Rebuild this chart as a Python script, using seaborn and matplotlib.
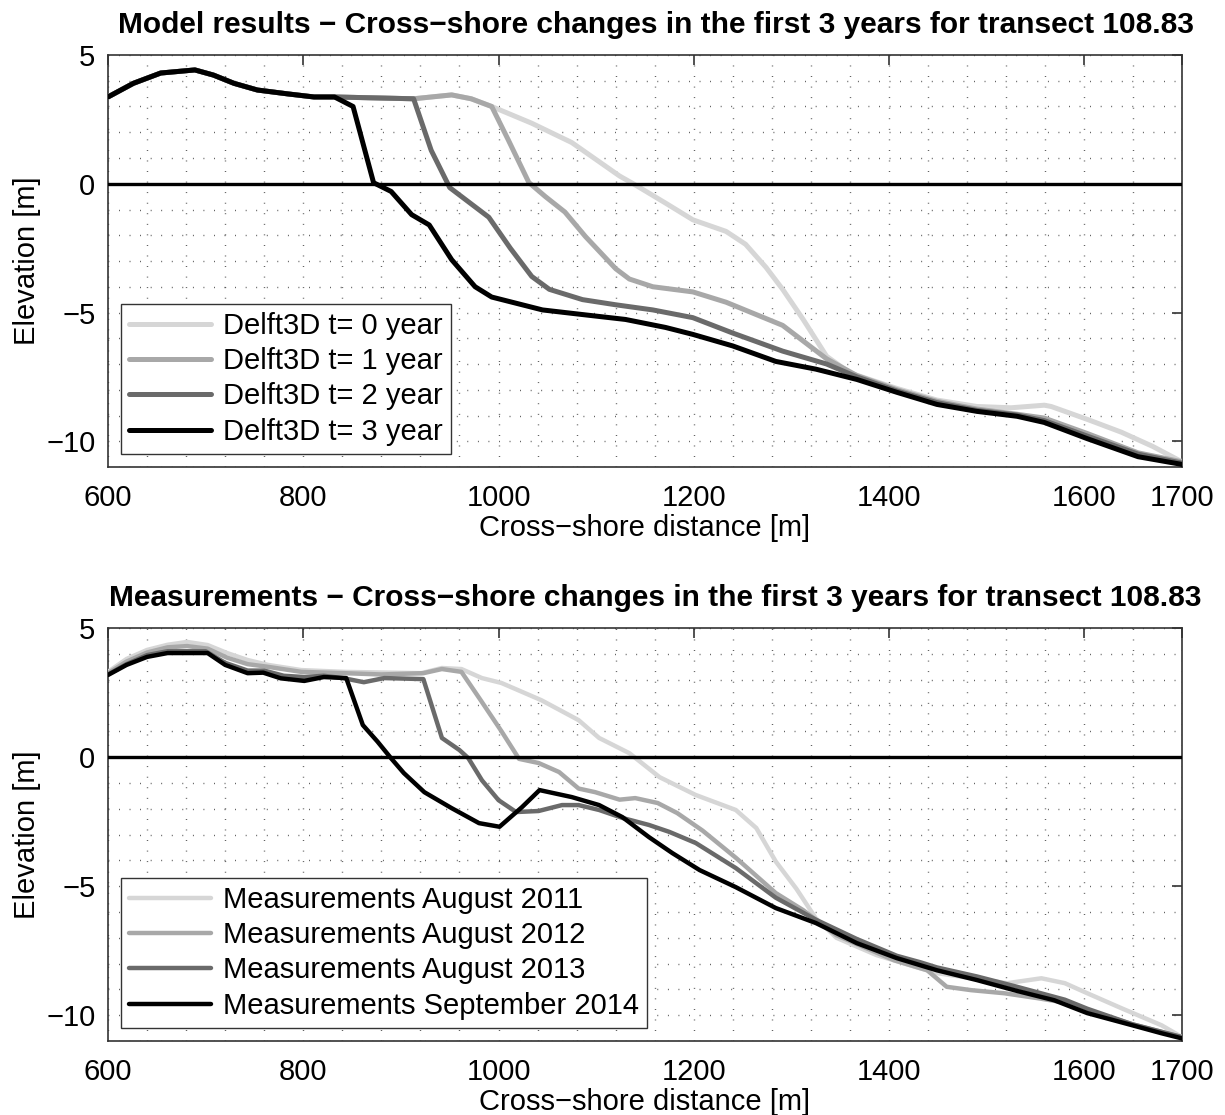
import matplotlib
matplotlib.use("Agg")
import matplotlib.pyplot as plt
from matplotlib.ticker import FixedLocator
import seaborn as sns

# ----------------------------------------------------------------
# Data (cross-shore distance [m], elevation [m])
# ----------------------------------------------------------------
# Model results (Delft3D)
T0_X = [600, 626, 654, 689, 708, 729, 753, 784, 811, 832, 913, 952, 972, 993, 1034, 1075,
        1124, 1138, 1171, 1199, 1233, 1253, 1274, 1291, 1312, 1336, 1360, 1408, 1449, 1490,
        1525, 1559, 1566, 1603, 1638, 1670, 1700]
T0_Y = [3.37, 3.9, 4.3, 4.42, 4.22, 3.9, 3.64, 3.49, 3.37, 3.37, 3.3, 3.45, 3.3, 3.0, 2.35, 1.6,
        0.3, 0.0, -0.75, -1.4, -1.85, -2.35, -3.25, -4.1, -5.27, -6.7, -7.35, -7.95, -8.4, -8.65,
        -8.7, -8.6, -8.65, -9.15, -9.65, -10.2, -10.8]

T1_X = [600, 626, 654, 689, 708, 729, 753, 784, 811, 832, 913, 952, 972, 993, 1010, 1031, 1048,
        1068, 1089, 1120, 1134, 1158, 1199, 1233, 1291, 1336, 1367, 1408, 1449, 1490, 1531,
        1559, 1603, 1655, 1700]
T1_Y = [3.37, 3.9, 4.3, 4.42, 4.22, 3.9, 3.64, 3.49, 3.37, 3.37, 3.3, 3.45, 3.3, 3.0, 1.7, 0.05,
        -0.5, -1.1, -2.05, -3.3, -3.7, -4.0, -4.2, -4.6, -5.5, -6.8, -7.45, -8.0, -8.45, -8.75,
        -8.95, -9.1, -9.7, -10.45, -10.8]

T2_X = [600, 626, 654, 689, 708, 729, 753, 784, 811, 832, 913, 931, 950, 990, 1012, 1034, 1052,
        1086, 1120, 1158, 1199, 1240, 1291, 1336, 1367, 1408, 1449, 1490, 1531, 1559, 1603,
        1655, 1700]
T2_Y = [3.37, 3.9, 4.3, 4.42, 4.22, 3.9, 3.64, 3.49, 3.37, 3.37, 3.3, 1.3, -0.15, -1.3, -2.5,
        -3.6, -4.1, -4.5, -4.7, -4.9, -5.2, -5.8, -6.5, -7.0, -7.5, -8.05, -8.5, -8.8, -8.98,
        -9.2, -9.8, -10.5, -10.85]

T3_X = [600, 626, 654, 689, 708, 729, 753, 784, 811, 832, 851, 872, 890, 911, 929, 952, 976,
        993, 1045, 1086, 1130, 1171, 1199, 1240, 1284, 1325, 1367, 1408, 1449, 1490, 1531,
        1559, 1603, 1655, 1700]
T3_Y = [3.37, 3.9, 4.3, 4.42, 4.22, 3.9, 3.64, 3.49, 3.37, 3.37, 3.0, 0.04, -0.3, -1.2, -1.6,
        -2.95, -4.0, -4.4, -4.9, -5.08, -5.27, -5.58, -5.85, -6.3, -6.9, -7.2, -7.6, -8.1,
        -8.57, -8.84, -9.03, -9.27, -9.9, -10.6, -10.9]

# Measurements
M11_X = [600, 619, 640, 661, 681, 702, 722, 743, 764, 798, 842, 921, 942, 962, 983, 1003, 1044,
         1082, 1103, 1134, 1165, 1202, 1243, 1264, 1284, 1305, 1325, 1346, 1387, 1428, 1449,
         1490, 1521, 1556, 1580, 1603, 1638, 1679, 1700]
M11_Y = [3.3, 3.8, 4.15, 4.35, 4.46, 4.34, 4.03, 3.76, 3.57, 3.37, 3.3, 3.25, 3.45, 3.41, 3.06,
         2.87, 2.2, 1.43, 0.74, 0.15, -0.78, -1.47, -2.05, -2.75, -4.05, -5.1, -6.25, -7.0,
         -7.67, -8.14, -8.37, -8.6, -8.76, -8.57, -8.76, -9.15, -9.73, -10.39, -10.85]

M12_X = [600, 619, 640, 661, 681, 702, 722, 743, 763, 798, 842, 880, 923, 942, 962, 983, 1003,
         1021, 1041, 1062, 1082, 1099, 1124, 1140, 1163, 1183, 1209, 1243, 1284, 1312, 1346,
         1405, 1439, 1459, 1484, 1518, 1552, 1583, 1603, 1649, 1700]
M12_Y = [3.25, 3.7, 4.05, 4.25, 4.3, 4.2, 3.85, 3.6, 3.5, 3.3, 3.25, 3.2, 3.25, 3.41, 3.3, 2.13,
         1.0, -0.07, -0.23, -0.58, -1.22, -1.36, -1.65, -1.59, -1.78, -2.17, -2.85, -3.9,
         -5.27, -5.93, -6.9, -7.87, -8.26, -8.9, -9.03, -9.15, -9.34, -9.53, -9.8, -10.35,
         -10.85]

M13_X = [600, 619, 640, 661, 700, 720, 743, 760, 780, 801, 821, 842, 862, 883, 923, 942, 960,
         969, 983, 1000, 1018, 1041, 1065, 1082, 1103, 1127, 1154, 1175, 1202, 1243, 1284,
         1325, 1367, 1408, 1432, 1449, 1490, 1531, 1580, 1603, 1649, 1700]
M13_Y = [3.2, 3.6, 3.95, 4.1, 4.1, 3.65, 3.35, 3.35, 3.15, 3.1, 3.15, 3.05, 2.9, 3.06, 3.02,
         0.74, 0.27, -0.04, -0.9, -1.67, -2.13, -2.09, -1.86, -1.86, -2.05, -2.36, -2.63,
         -2.9, -3.33, -4.3, -5.45, -6.3, -7.05, -7.7, -7.95, -8.15, -8.5, -8.9, -9.4, -9.75,
         -10.35, -10.85]

M14_X = [600, 619, 640, 661, 702, 720, 743, 759, 777, 801, 821, 844, 861, 876, 890, 903, 924,
         952, 980, 1001, 1024, 1042, 1075, 1103, 1127, 1154, 1178, 1206, 1243, 1284, 1325,
         1367, 1408, 1449, 1490, 1531, 1569, 1603, 1649, 1679, 1700]
M14_Y = [3.18, 3.57, 3.88, 4.03, 4.03, 3.57, 3.25, 3.27, 3.05, 2.95, 3.1, 3.06, 1.24, 0.6,
         -0.05, -0.62, -1.36, -1.98, -2.56, -2.7, -1.94, -1.28, -1.55, -1.86, -2.33, -3.1,
         -3.72, -4.38, -5.04, -5.85, -6.43, -7.21, -7.79, -8.26, -8.64, -9.06, -9.42, -9.92,
         -10.39, -10.7, -10.9]

MODEL_LABELS = ["Delft3D t= 0 year", "Delft3D t= 1 year", "Delft3D t= 2 year", "Delft3D t= 3 year"]
MEAS_LABELS = ["Measurements August 2011", "Measurements August 2012",
               "Measurements August 2013", "Measurements September 2014"]

X_TICKS = [600, 800, 1000, 1200, 1400, 1600, 1700]
X_MINOR = list(range(640, 1600, 40)) + [1650]
Y_TICKS = [-10, -5, 0, 5]
Y_MINOR = list(range(-11, 6))

# ----------------------------------------------------------------
# Style (MATLAB-like grey scale figure)
# ----------------------------------------------------------------
GREYS = ["#d6d6d6", "#a8a8a8", "#6a6a6a", "#000000"]

sns.set_theme(style="white")
plt.rcParams["font.family"] = ["Liberation Sans", "DejaVu Sans"]
plt.rcParams.update({
    "axes.edgecolor": "#333333",
    "axes.linewidth": 1.2,
    "text.color": "black",
    "axes.labelcolor": "black",
    "xtick.color": "black",
    "ytick.color": "black",
})

TITLE_FS = 21.5
FS = 21


def style_axes(ax, title):
    ax.axhline(0, color="black", lw=2.4, zorder=5)
    ax.set_xlim(600, 1700)
    ax.set_ylim(-11, 5)
    ax.set_xticks(X_TICKS)
    ax.set_yticks(Y_TICKS)
    ax.xaxis.set_minor_locator(FixedLocator(X_MINOR))
    ax.yaxis.set_minor_locator(FixedLocator(Y_MINOR))
    ax.grid(True, which="both", linestyle=(0, (0.6, 7)), linewidth=1.0, color="#444444")
    ax.set_axisbelow(True)
    ax.tick_params(which="major", direction="in", top=True, right=True,
                   length=7, width=1.2, labelsize=FS, pad=9, color="#333333")
    ax.tick_params(axis="x", which="major", pad=12)
    ax.tick_params(which="minor", length=0)
    ax.set_xlabel("Cross\u2212shore distance [m]", fontsize=FS, labelpad=2)
    ax.set_ylabel("Elevation [m]", fontsize=FS, labelpad=4)
    ax.set_title(title, fontsize=TITLE_FS, fontweight="bold", pad=16, x=0.51)
    leg = ax.legend(loc="lower left", fontsize=FS, frameon=True, fancybox=False,
                    edgecolor="#333333", framealpha=1, handlelength=2.8,
                    labelspacing=0.25, borderaxespad=0.45, borderpad=0.28,
                    handletextpad=0.4)
    leg.get_frame().set_linewidth(1.0)
    leg.set_zorder(10)


fig = plt.figure(figsize=(12.25, 11.15), dpi=100)
ax_top = fig.add_axes([108 / 1225, 1 - 467 / 1115, 1074 / 1225, 412 / 1115])
ax_bot = fig.add_axes([108 / 1225, 1 - 1041 / 1115, 1074 / 1225, 413 / 1115])

# top panel: model
for xs, ys, lab, col in zip([T0_X, T1_X, T2_X, T3_X], [T0_Y, T1_Y, T2_Y, T3_Y],
                            MODEL_LABELS, GREYS):
    sns.lineplot(x=xs, y=ys, ax=ax_top, color=col, linewidth=3.6, label=lab,
                 sort=False, estimator=None, zorder=3)
style_axes(ax_top, "Model results \u2212 Cross\u2212shore changes in the first 3 years for transect 108.83")

# bottom panel: measurements
for xs, ys, lab, col in zip([M11_X, M12_X, M13_X, M14_X], [M11_Y, M12_Y, M13_Y, M14_Y],
                            MEAS_LABELS, GREYS):
    sns.lineplot(x=xs, y=ys, ax=ax_bot, color=col, linewidth=3.2, label=lab,
                 sort=False, estimator=None, zorder=3)
style_axes(ax_bot, "Measurements \u2212 Cross\u2212shore changes in the first 3 years for transect 108.83")

fig.savefig("out.png", dpi=100, facecolor="white")
